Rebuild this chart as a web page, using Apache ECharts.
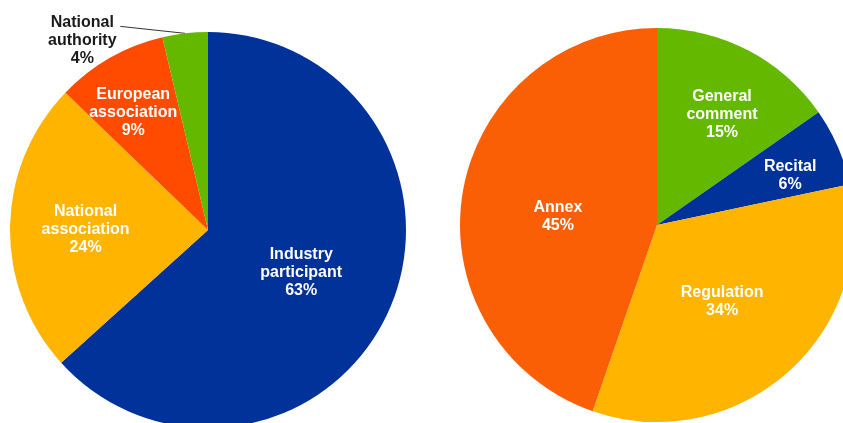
<!DOCTYPE html>
<html>
<head>
<meta charset="utf-8">
<script src="https://cdn.jsdelivr.net/npm/echarts@6/dist/echarts.min.js"></script>
<style>
html,body{margin:0;padding:0;background:#fff;}
#main{width:843px;height:423px;}
</style>
</head>
<body>
<div id="main"></div>
<script>
const leftCategories = ['Industry participant', 'National association', 'European association', 'National authority'];
const leftLabels = ['Industry\nparticipant', 'National\nassociation', 'European\nassociation', 'National\nauthority'];
const leftValues = [63.3, 23.9, 9.1, 3.7];
const leftColors = ['#003299', '#FFB400', '#FF4B00', '#65B800'];

const rightCategories = ['General comment', 'Recital', 'Regulation', 'Annex'];
const rightLabels = ['General\ncomment', 'Recital', 'Regulation', 'Annex'];
const rightValues = [15.3, 6.4, 33.6, 44.7];
const rightColors = ['#65B800', '#003299', '#FFB400', '#FB5F06'];

const pieCenters = [[208, 230], [657, 225]];
const pieRadii = [198, 197];
// radial position of inside labels as a fraction of the radius, plus a small extra shift
const labelRadial = [[0.5, 0.6, 0.71, null], [0.65, 0.72, 0.5, 0.5]];
const labelShift = [[[0, 1], [0, 2], [-3, 8], null], [[4, 7], [-1, 9], [-2, 0], [1, 8]]];

const chart = echarts.init(document.getElementById('main'), null, {renderer: 'canvas'});

function makeData(cats, vals, colors, outsideIdx) {
  return cats.map((c, i) => {
    const d = {name: c, value: vals[i], itemStyle: {color: colors[i]}};
    if (i === outsideIdx) {
      d.label = {position: 'outside', color: '#1a1a1a'};
      d.labelLine = {show: true, length: 6, length2: 62, lineStyle: {color: '#333', width: 1}};
    }
    return d;
  });
}

const leftData = makeData(leftCategories, leftValues, leftColors, 3);
const rightData = makeData(rightCategories, rightValues, rightColors, -1);
const allLabels = [leftLabels, rightLabels];

function labelLayout(params) {
  const s = params.seriesIndex, i = params.dataIndex;
  const r = params.labelRect;
  const cx = r.x + r.width / 2, cy = r.y + r.height / 2;
  if (s === 0 && i === 3) {
    const pts = params.labelLinePoints;
    const start = pts[0], end = pts[pts.length - 1];
    return {
      x: end[0] - 40, y: end[1] + 13,
      align: 'center', verticalAlign: 'middle',
      labelLinePoints: [start, [end[0] - 2, end[1] - 1]]
    };
  }
  const k = labelRadial[s][i];
  const o = pieCenters[s];
  const f = k / 0.5 - 1;
  const sh = labelShift[s][i];
  return {dx: (cx - o[0]) * f + sh[0], dy: (cy - o[1]) * f + sh[1]};
}

const baseLabel = {
  show: true,
  position: 'inside',
  color: '#ffffff',
  fontFamily: 'Liberation Sans, Arial, sans-serif',
  fontWeight: 'bold',
  fontSize: 16,
  lineHeight: 18,
  align: 'center',
  formatter: function (p) {
    return allLabels[p.seriesIndex][p.dataIndex] + '\n' + Math.round(p.value) + '%';
  }
};

chart.setOption({
  backgroundColor: '#ffffff',
  animation: false,
  series: [
    {
      type: 'pie',
      center: pieCenters[0],
      radius: pieRadii[0],
      startAngle: 90,
      clockwise: true,
      avoidLabelOverlap: false,
      label: baseLabel,
      labelLine: {show: false},
      labelLayout: labelLayout,
      emphasis: {disabled: true},
      data: leftData
    },
    {
      type: 'pie',
      center: pieCenters[1],
      radius: pieRadii[1],
      startAngle: 90,
      clockwise: true,
      avoidLabelOverlap: false,
      label: baseLabel,
      labelLine: {show: false},
      labelLayout: labelLayout,
      emphasis: {disabled: true},
      data: rightData
    }
  ]
});
</script>
</body>
</html>
